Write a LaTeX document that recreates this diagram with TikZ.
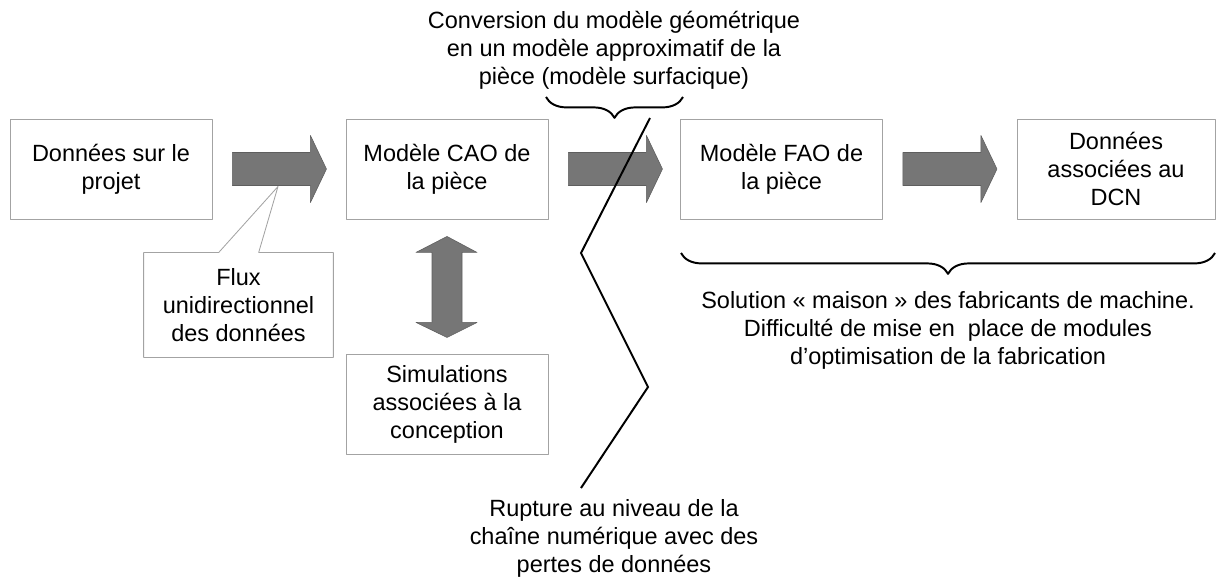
\documentclass[tikz,border=0pt]{standalone}
\usepackage{fontspec}
\setmainfont{Liberation Sans}
\usetikzlibrary{calc,decorations.pathreplacing}
\definecolor{grisboite}{HTML}{A3A3A3}
\definecolor{grisfleche}{HTML}{767676}
\definecolor{bordfleche}{HTML}{5E5E5E}
\tikzset{
  boite/.style={draw=grisboite, line width=0.6pt, fill=white, align=center,
    minimum width=5.05cm, minimum height=2.5cm, inner sep=2pt},
  fleche/.style={fill=grisfleche, draw=bordfleche, line width=0.4pt},
  accolade/.style={decorate, line width=1.4pt,
    decoration={brace, mirror, amplitude=0.52cm}},
  rupture/.style={line width=1.4pt, line join=miter},
}
\begin{document}
\begin{tikzpicture}[x=0.025cm, y=-0.025cm, font=\fontsize{16.7}{19.9}\selectfont, line join=round]
		\useasboundingbox (0,0) rectangle (1216,579);
		% chaine des boites
		\node[boite] (proj) at (111,169) {Donn\'ees sur le\\projet};
		\node[boite] (cao) at (447,169) {Mod\`ele CAO de\\la pi\`ece};
		\node[boite] (fao) at (781.5,169) {Mod\`ele FAO de\\la pi\`ece};
		\node[boite, minimum width=4.95cm] (dcn) at (1116,169) {Donn\'ees\\associ\'ees au\\DCN};
		\node[boite, minimum height=2.52cm] (simu) at (447,404.5) {Simulations\\associ\'ees \`a la\\conception};
		% fleches pleines
		\foreach \a in {proj,cao,fao}
			\draw[fleche] ([xshift=0.5cm]\a.east) ++(0,-16.5) -- ++(78,0) -- ++(0,-17) -- ++(16,33.5)
				-- ++(-16,33.5) -- ++(0,-17) -- ++(-78,0) -- cycle;
		\draw[fleche] ($(cao.south)+(0,17)$) -- ++(30,16) -- ++(-15,0) -- ++(0,70) -- ++(15,0)
			-- ++(-30,15) -- ++(-31,-15) -- ++(16,0) -- ++(0,-70) -- ++(-16,0) -- cycle;
		% bulle
		\coordinate (fluxtip) at (278,186.5);
		\node[boite, draw=none, fill=none, minimum width=4.72cm, minimum height=2.6cm] (flux) at (238.5,305)
			{Flux\\unidirectionnel\\des donn\'ees};
		\draw[draw=grisboite, line width=0.6pt] ($(flux.north west)+(75,0)$) -- (fluxtip) -- ($(flux.north west)+(115,0)$)
			-- (flux.north east) -- (flux.south east) -- (flux.south west) -- (flux.north west) -- cycle;
		% conversion
		\node[align=center] (conv) at (614,50) {Conversion du mod\`ele g\'eom\'etrique\\en un mod\`ele approximatif de la\\pi\`ece (mod\`ele surfacique)};
		\draw[accolade] (546,97) -- (683,97);
		% rupture
		\coordinate (r1) at (650,118);
		\coordinate (r2) at (581,253);
		\coordinate (r3) at (648,387);
		\coordinate (r4) at (581,488);
		\draw[rupture] (r1) -- (r2) -- (r3) -- (r4);
		\node[align=center] (rupt) at (614,538) {Rupture au niveau de la\\cha\^ine num\'erique avec des\\pertes de donn\'ees};
		% solution maison
		\draw[accolade] (681,253) -- (1215,253);
		\node[align=center] (sol) at (948,330) {Solution \guillemotleft{} maison \guillemotright{} des fabricants de machine.\\Difficult\'e de mise en\ \ place de modules\\d'optimisation de la fabrication};
\end{tikzpicture}
\end{document}
